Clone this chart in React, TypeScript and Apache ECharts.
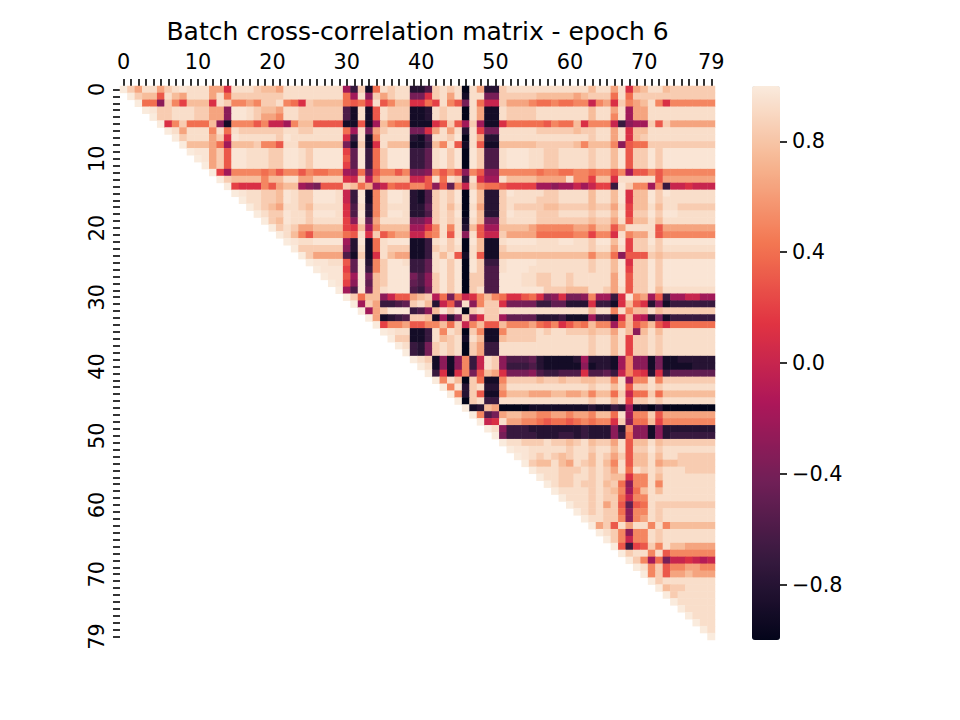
import React, { useEffect, useRef } from "react";
import * as echarts from "echarts";

const TITLE = "Batch cross-correlation matrix - epoch 6";
const INDICES: string[] = Array.from({ length: 80 }, (_, i) => String(i));
const LABELED_TICKS = [0, 10, 20, 30, 40, 50, 60, 70, 79];
const CBAR_TICKS = [-0.8, -0.4, 0, 0.4, 0.8];
const ROCKET = ["#03051A", "#35193E", "#701F57", "#AD1759", "#E13342", "#F37651", "#F6B48F", "#FAEBDD"];

// cell value codes
const LEVEL: Record<string, number> = {
  X: 1.0, W: 0.97, "9": 0.93, "8": 0.84, "7": 0.76, "6": 0.64, "5": 0.5, "4": 0.4, "3": 0.3, "2": 0.2, "1": 0.1, "0": 0.0,
  a: -0.1, b: -0.2, c: -0.3, d: -0.4, e: -0.5, f: -0.6, g: -0.7, h: -0.8, i: -0.9, j: -1.0,
};

// row r: codes for columns r..79 (upper triangle incl. diagonal)
const ROWS: string[] = [
  "X8699689W9" + "9966199987" + "7699999999" + "bg8i49899h" + "hf8989j96h" + "h899999999" + "9997996916" + "7997888888",
  "X87739769" + "9969488888" + "8899999999" + "4b9c86899d" + "d18969i99d" + "d888887777" + "7678884948" + "8888888888",
  "X44c8527" + "7719855658" + "8954187777" + "4341935771" + "142953d940" + "0866654454" + "4550561856" + "7951555555",
  "XW88999" + "8866cWW987" + "7699888888" + "fi9i39888i" + "ih9899j96i" + "i988889999" + "99979969b6" + "6999999999",
  "X88999" + "8866cWW986" + "6599888888" + "fi9i39888i" + "ih9899j96i" + "i988889999" + "99979959b6" + "6999999999",
  "X1584" + "447ci55535" + "00b5773333" + "ii3ib7544i" + "ii1383b8bi" + "i144444354" + "4715550gcb" + "b838666666",
  "X969" + "9959498888" + "8899889999" + "4b9d68999d" + "d16969h92d" + "d999998888" + "8788996917" + "7999999999",
  "X89" + "99681W9999" + "98W9999999" + "1g9i59999h" + "if998Wj96h" + "h999999999" + "9998996917" + "8999999999",
  "X7" + "7764b77785" + "5399777777" + "di8i19777i" + "ig7593i93i" + "i777778888" + "8757775c34" + "4888888888",
  "X" + "WW683WW999" + "88WW98WWWW" + "2eWg48WWWg" + "ge9W8WjW8f" + "f9WWW99889" + "9998997W38" + "8W8WWWWWWW",
  "X" + "W683WW999" + "88WW98WWWW" + "3eWg48WWWg" + "ge9W8WjW8f" + "f9WWW99889" + "9998997W38" + "8W8WWWWWWW",
  "X" + "683WW999" + "88WW98WWWW" + "2eWg48WWWg" + "ge9W8WjW8f" + "f9WWW99889" + "9998997W38" + "8W8WWWWWWW",
  "X2b55554" + "5355354455" + "bc4d35535d" + "dc5353c53c" + "c555554554" + "45545535b3" + "3535555555",
  "X877775" + "7799668888" + "108a577770" + "039498g91b" + "b977776666" + "9552771999" + "9936666666",
  "X21115" + "3677bcd333" + "8746b04335" + "53c3e50854" + "432222bbcb" + "b0b022gW85" + "5b5g001000",
  "XW998" + "87W988WWW9" + "0gWi58WW9h" + "if898WjW7h" + "h8W9999889" + "9997997W17" + "7W8W999999",
  "X998" + "87W988WWW9" + "0gWi58WW9h" + "if898WjW7h" + "h899998889" + "9997997W17" + "7W89999999",
  "X98" + "7699879999" + "1f9h58999h" + "he8979j96h" + "h898888778" + "8887886927" + "7979988888",
  "X9" + "88W998WWW9" + "1fWh58WW9h" + "hf898WjW7h" + "h8W9998889" + "9998997W28" + "8W8WW99999",
  "X" + "87W9989999" + "2c9e69999d" + "db8989i97d" + "d899998888" + "8887886937" + "7979999999",
  "X898667777" + "217b57777b" + "b15959h73b" + "b777765555" + "5665773699" + "9936666666",
  "X97536666" + "4391835660" + "045939c930" + "0866664444" + "4552551956" + "6935555555",
  "XW99WWWW" + "bhWi49WWWi" + "ig9W8WjW7i" + "i9WWWW999W" + "W998WW7W28" + "8W8WWWWWWW",
  "X888888" + "ch9i49888i" + "ig8989j97i" + "i899999999" + "9998996928" + "8989999999",
  "X86666" + "fi8i19766i" + "ig9793i93i" + "i777777777" + "7775774c33" + "3878888888",
  "XWW99" + "3eWh58WW9g" + "ge9W8WjW8g" + "g9WWWW9999" + "9998997W18" + "8W8WWWWWWW",
  "XWWW" + "2eWg58WWWg" + "ge9W8WjW8f" + "f9WWW99999" + "9998997W28" + "8W8WWWWWWW",
  "XWW" + "3bWd78WWWd" + "fc8W8Wj88f" + "fWWW998899" + "8999996W38" + "8W8WWWWWWW",
  "XW" + "2cWe78WWWe" + "fc8W8Wj88f" + "fWWW998899" + "8999996W38" + "8W8WWWWWWW",
  "X" + "bfWd79WWWf" + "gd8W8Wj89f" + "fWWWWWW888" + "7779986938" + "8W79999999",
  "X8477c0336" + "78a4d40157" + "5411341dc1" + "ddc5bbg1W5" + "6b3gbb00bb",
  "Xb86ggfe8" + "97h03d9c58" + "81ddddggee" + "hhh1ggi173" + "1hcigggggg",
  "Xb68WWWg" + "fc7W8Wj898" + "8999999999" + "9997995957" + "7978888888",
  "X6ihgf8" + "87ibhd8c18" + "8beeeehhhg" + "iiibggi170" + "ahdigggggg",
  "X25563" + "3557480573" + "3755564351" + "354755b473" + "5731444444",
  "XW99i" + "ig9598j85i" + "i588889899" + "888788697c" + "7979999999",
  "X88i" + "ig9789i97i" + "i788889999" + "9998997928" + "8989999999",
  "X9g" + "hd8989j86g" + "g999999999" + "9998997928" + "8989999999",
  "Xg" + "hd8989j86g" + "g999999999" + "9998997928" + "8989999999",
  "X98icic5g09" + "8cfffehiii" + "ihbhhhib5c" + "cidiihhhhh",
  "X9icic5g09" + "8cgggfhiii" + "iicihhib5c" + "cidiiiihhh",
  "Xg1i15d37" + "61dddcfggf" + "ff1ffeg052" + "1h1geeeeee",
  "X597j84i" + "i588887887" + "88778859b5" + "5958888888",
  "X5Wh89h" + "h699999999" + "9998997938" + "8989999999",
  "X5h83i" + "i577766677" + "6675774804" + "4847777777",
  "Xj89g" + "g999999999" + "9998997928" + "8989999999",
  "Xih7" + "6jjjjiiiii" + "iiihiighbi" + "ijhjjjjjjj",
  "X5f" + "d677665566" + "56657749b5" + "5836666666",
  "X0" + "1966554344" + "34545518c4" + "4725555555",
  "X" + "9cggghhhhh" + "hhghhhch5c" + "cichhhhhhh",
  "Xdgggghhhg" + "ghghhhcg4c" + "cichgggggg",
  "X99888988" + "7897886937" + "7978888888",
  "XWW99999" + "8998997938" + "8W89999999",
  "XW98987" + "8997986837" + "7979988888",
  "X87797" + "6987975937" + "7967788888",
  "X9998" + "8898986949" + "8989998888",
  "X998" + "8998987715" + "5979999999",
  "X98" + "89889784c5" + "5959999999",
  "X9" + "99989875b4" + "7979999999",
  "X" + "9998988405" + "5999999999",
  "X9989683e3" + "4988888888",
  "X989884c5" + "5989999999",
  "X99885c5" + "6989999999",
  "X683969" + "9595777777",
  "X985c5" + "5989999999",
  "X8505" + "5989999999",
  "X3g2" + "3859776666",
  "X89" + "9593555555",
  "X8" + "5b4d0010a0",
  "X" + "9583556655",
  "X583667666",
  "X89999999",
  "X7889999",
  "X899999",
  "X99999",
  "X9999",
  "X999",
  "X99",
  "X9",
  "X",
];

function buildCells(): [number, number, number][] {
  const out: [number, number, number][] = [];
  ROWS.forEach((row, r) => {
    for (let k = 0; k < row.length; k++) {
      const v = LEVEL[row[k]];
      if (v !== undefined) out.push([r + k, r, v]);
    }
  });
  return out;
}

const FONT = "DejaVu Sans";
const tickStyle = { color: "#000", width: 1.6 };

export default function App() {
  const ref = useRef<HTMLDivElement>(null);
  useEffect(() => {
    if (!ref.current) return;
    const chart = echarts.init(ref.current, undefined, { renderer: "svg" });
    const labelled = (idx: number) => LABELED_TICKS.indexOf(idx) >= 0;
    chart.setOption({
      animation: false,
      backgroundColor: "#ffffff",
      textStyle: { fontFamily: FONT },
      grid: [
        { left: 120, top: 86, width: 595, height: 554 },
        { left: 752, top: 86, width: 28, height: 554 },
      ],
      xAxis: [
        {
          type: "category",
          gridIndex: 0,
          data: INDICES,
          position: "top",
          axisLine: { show: false },
          axisTick: { show: true, interval: 0, alignWithLabel: true, length: 7, lineStyle: tickStyle },
          axisLabel: { interval: (idx: number) => labelled(idx), color: "#000", fontSize: 20.8, fontFamily: FONT, margin: 14 },
          splitLine: { show: false },
          splitArea: { show: false },
        },
        { type: "category", gridIndex: 1, data: [""], show: false },
      ],
      yAxis: [
        {
          type: "category",
          gridIndex: 0,
          data: INDICES,
          inverse: true,
          axisLine: { show: false },
          axisTick: { show: true, interval: 0, alignWithLabel: true, length: 7, lineStyle: tickStyle },
          axisLabel: { interval: (idx: number) => labelled(idx), rotate: 90, color: "#000", fontSize: 20.8, fontFamily: FONT, margin: 13 },
          splitLine: { show: false },
          splitArea: { show: false },
        },
        {
          type: "value",
          gridIndex: 1,
          min: -1,
          max: 1,
          position: "right",
          axisLine: { show: false },
          splitLine: { show: false },
          axisTick: { show: true, length: 7, customValues: CBAR_TICKS, lineStyle: tickStyle },
          axisLabel: {
            customValues: CBAR_TICKS,
            color: "#000",
            fontSize: 20.8,
            fontFamily: FONT,
            margin: 12,
            formatter: (v: number) => (v < -1e-9 ? "\u2212" : "") + Math.abs(v).toFixed(1),
          },
        },
      ],
      visualMap: {
        type: "continuous",
        min: -1,
        max: 1,
        seriesIndex: 0,
        calculable: false,
        hoverLink: false,
        orient: "vertical",
        left: 752,
        top: 86,
        itemWidth: 28,
        itemHeight: 554,
        padding: 0,
        inRange: { color: ROCKET },
      },
      series: [
        {
          type: "heatmap",
          xAxisIndex: 0,
          yAxisIndex: 0,
          data: buildCells(),
          progressive: 0,
          emphasis: { disabled: true },
          itemStyle: { borderWidth: 0 },
        },
      ],
      graphic: [
        {
          type: "text",
          x: 417.5,
          y: 31,
          style: { text: TITLE, font: `25px "${FONT}"`, fill: "#000", align: "center", verticalAlign: "middle" },
        },
      ],
    });
    return () => chart.dispose();
  }, []);
  return <div ref={ref} style={{ position: "absolute", left: 0, top: 0, width: 960, height: 720 }} />;
}
